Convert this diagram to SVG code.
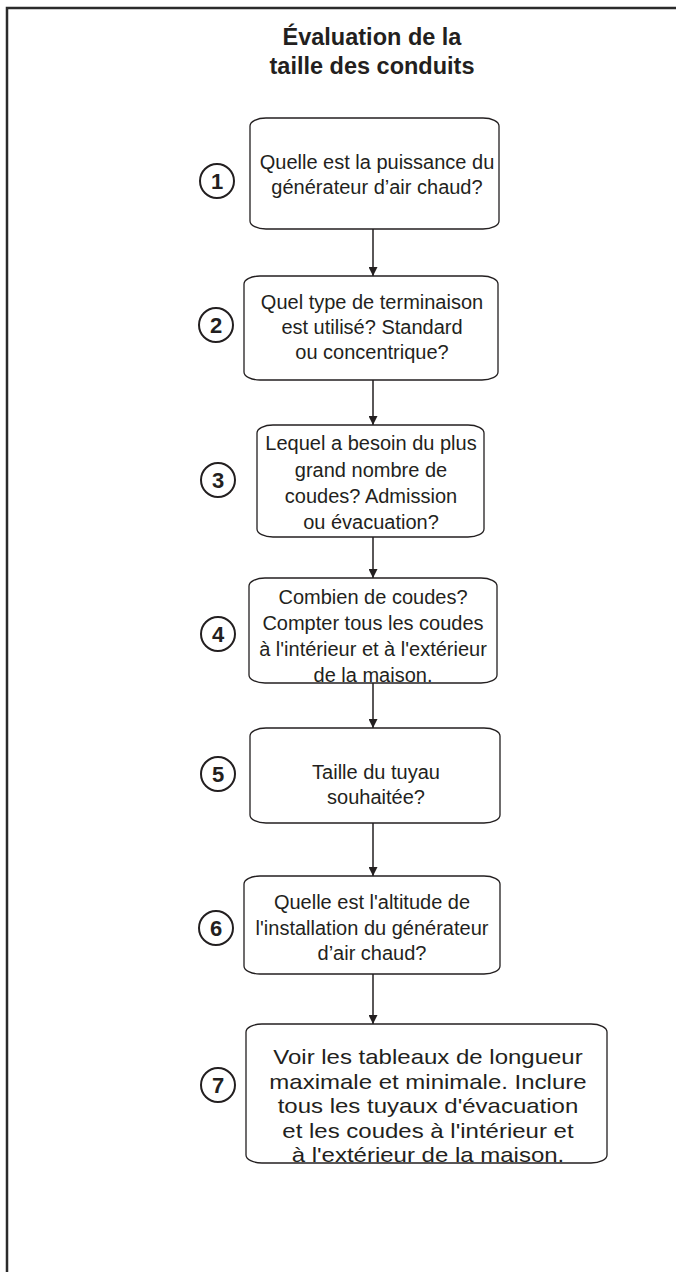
<svg xmlns="http://www.w3.org/2000/svg" width="676" height="1272" viewBox="0 0 676 1272">
<defs>
<style>
.frame{fill:none;stroke:#2b2b2b;stroke-width:2.5}
.box{fill:#fff;stroke:#231f20;stroke-width:1.3}
.num{fill:#fff;stroke:#231f20;stroke-width:2}
.t{font-family:"Liberation Sans",Arial,sans-serif;font-size:20px;fill:#231f20;text-anchor:middle}
.n{font-family:"Liberation Sans",Arial,sans-serif;font-size:22px;font-weight:bold;fill:#231f20;text-anchor:middle}
.title{font-family:"Liberation Sans",Arial,sans-serif;font-size:23.5px;font-weight:bold;fill:#231f20;text-anchor:middle}
.c{stroke:#231f20;stroke-width:1.5;fill:none}
</style>
<marker id="ah" viewBox="0 0 10 10" refX="10" refY="5" markerWidth="9" markerHeight="9" markerUnits="userSpaceOnUse" orient="auto">
<path d="M0,0 L10,5 L0,10 Z" fill="#231f20"/>
</marker>
</defs>
<rect width="676" height="1272" fill="#fff"/>
<path class="frame" d="M7,1272 V8 H676"/>
<g id="title">
<text class="title" x="372" y="45">Évaluation de la</text>
<text class="title" x="372" y="74">taille des conduits</text>
</g>
<g id="connectors">
<path class="c" d="M373,229 V276" marker-end="url(#ah)"/>
<path class="c" d="M373,380 V425" marker-end="url(#ah)"/>
<path class="c" d="M373,537 V578" marker-end="url(#ah)"/>
<path class="c" d="M373,683 V728" marker-end="url(#ah)"/>
<path class="c" d="M373,823 V876" marker-end="url(#ah)"/>
<path class="c" d="M373,974 V1024" marker-end="url(#ah)"/>
</g>
<g id="n1">
<rect class="box" x="250" y="118" width="249" height="111" rx="16" ry="8"/>
<text class="t" x="377" y="169">Quelle est la puissance du</text>
<text class="t" x="377" y="194">générateur d’air chaud?</text>
<circle class="num" cx="217" cy="181" r="17"/>
<text class="n" x="217" y="189">1</text>
</g>
<g id="n2">
<rect class="box" x="244" y="276" width="254" height="104" rx="16" ry="8"/>
<text class="t" x="372" y="309">Quel type de terminaison</text>
<text class="t" x="372" y="334">est utilisé? Standard</text>
<text class="t" x="372" y="359">ou concentrique?</text>
<circle class="num" cx="216" cy="325" r="17"/>
<text class="n" x="216" y="333">2</text>
</g>
<g id="n3">
<rect class="box" x="257" y="425" width="227" height="112" rx="16" ry="8"/>
<text class="t" x="371" y="450">Lequel a besoin du plus</text>
<text class="t" x="371" y="477">grand nombre de</text>
<text class="t" x="371" y="503">coudes? Admission</text>
<text class="t" x="371" y="529">ou évacuation?</text>
<circle class="num" cx="218" cy="480" r="17"/>
<text class="n" x="218" y="488">3</text>
</g>
<g id="n4">
<rect class="box" x="249" y="578" width="248" height="105" rx="16" ry="8"/>
<text class="t" x="373" y="604">Combien de coudes?</text>
<text class="t" x="373" y="630">Compter tous les coudes</text>
<text class="t" x="373" y="656">à l'intérieur et à l'extérieur</text>
<text class="t" x="373" y="682">de la maison.</text>
<circle class="num" cx="218" cy="634" r="17"/>
<text class="n" x="218" y="642">4</text>
</g>
<g id="n5">
<rect class="box" x="250" y="728" width="250" height="95" rx="16" ry="8"/>
<text class="t" x="376" y="779">Taille du tuyau</text>
<text class="t" x="376" y="804">souhaitée?</text>
<circle class="num" cx="218" cy="774" r="17"/>
<text class="n" x="218" y="782">5</text>
</g>
<g id="n6">
<rect class="box" x="244" y="876" width="256" height="98" rx="16" ry="8"/>
<text class="t" x="372" y="909">Quelle est l'altitude de</text>
<text class="t" x="372" y="935">l'installation du générateur</text>
<text class="t" x="372" y="960">d’air chaud?</text>
<circle class="num" cx="216" cy="928" r="17"/>
<text class="n" x="216" y="936">6</text>
</g>
<g id="n7">
<rect class="box" x="246" y="1024" width="361" height="139" rx="16" ry="8"/>
<g transform="translate(428,0) scale(1.2,1) translate(-428,0)">
<text class="t" x="428" y="1064">Voir les tableaux de longueur</text>
<text class="t" x="428" y="1089">maximale et minimale. Inclure</text>
<text class="t" x="428" y="1113">tous les tuyaux d'évacuation</text>
<text class="t" x="428" y="1138">et les coudes à l'intérieur et</text>
<text class="t" x="428" y="1162">à l'extérieur de la maison.</text>
</g>
<circle class="num" cx="218" cy="1085" r="17"/>
<text class="n" x="218" y="1093">7</text>
</g>
</svg>
